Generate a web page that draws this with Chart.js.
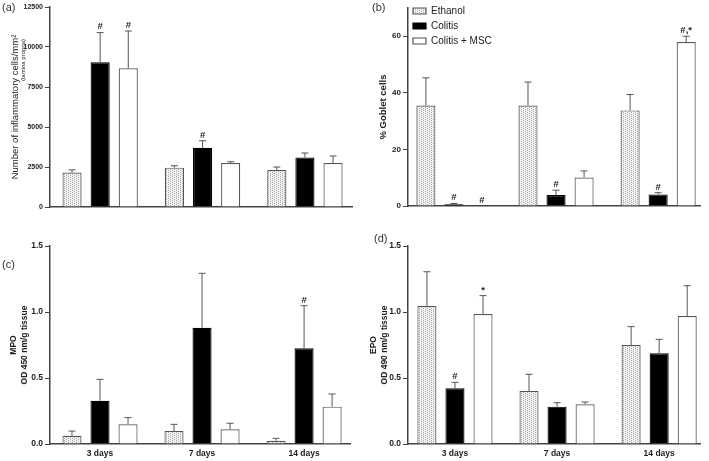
<!DOCTYPE html>
<html>
<head>
<meta charset="utf-8">
<script src="https://cdn.jsdelivr.net/npm/chart.js@4.4.1/dist/chart.umd.min.js"></script>
<style>
  body { margin: 0; background: #fff; width: 709px; height: 461px; position: relative; overflow: hidden; font-family: "Liberation Sans", Arial, sans-serif; }
  canvas { position: absolute; }
  .panel { position: absolute; font-size: 11px; color: #333; }
</style>
</head>
<body>
<canvas id="chartA" width="355" height="218" style="left:0;top:0"></canvas>
<canvas id="chartB" width="354" height="218" style="left:355px;top:0"></canvas>
<canvas id="chartC" width="355" height="243" style="left:0;top:218px"></canvas>
<canvas id="chartD" width="354" height="243" style="left:355px;top:218px"></canvas>
<div class="panel" style="left:2px;top:1px">(a)</div>
<div class="panel" style="left:372px;top:1px">(b)</div>
<div class="panel" style="left:2px;top:258px">(c)</div>
<div class="panel" style="left:374px;top:232px">(d)</div>
<script>
const days = ["3 days", "7 days", "14 days"];
const groups = ["Ethanol", "Colitis", "Colitis + MSC"];

// (a) inflammatory cells / mm2
const cellsEthanol = [2150, 2460, 2310];
const cellsColitis = [9040, 3700, 3100];
const cellsMsc = [8670, 2750, 2750];
const cellsEthanolErr = [170, 120, 190];
const cellsColitisErr = [1860, 440, 275];
const cellsMscErr = [2330, 80, 440];
const cellsMarks = [["", "", ""], ["#", "#", ""], ["#", "", ""]];

// (b) % goblet cells
const gobletEthanol = [35.5, 35.5, 33.8];
const gobletColitis = [0.6, 3.9, 4.1];
const gobletMsc = [0, 10.1, 58];
const gobletEthanolErr = [9.8, 8.3, 5.6];
const gobletColitisErr = [0.3, 1.7, 0.6];
const gobletMscErr = [0, 2.3, 2];
const gobletMarks = [["", "", ""], ["#", "#", "#"], ["#", "", "#,*"]];

// (c) MPO
const mpoEthanol = [0.063, 0.098, 0.025];
const mpoColitis = [0.328, 0.881, 0.725];
const mpoMsc = [0.149, 0.111, 0.283];
const mpoEthanolErr = [0.035, 0.051, 0.018];
const mpoColitisErr = [0.162, 0.412, 0.323];
const mpoMscErr = [0.051, 0.046, 0.096];
const mpoMarks = [["", "", ""], ["", "", "#"], ["", "", ""]];

// (d) EPO
const epoEthanol = [1.045, 0.401, 0.75];
const epoColitis = [0.422, 0.283, 0.687];
const epoMsc = [0.985, 0.301, 0.97];
const epoEthanolErr = [0.26, 0.127, 0.139];
const epoColitisErr = [0.045, 0.03, 0.106];
const epoMscErr = [0.139, 0.017, 0.229];
const epoMarks = [["", "", ""], ["#", "", ""], ["*", "", ""]];

Chart.defaults.font.family = '"Liberation Sans", Arial, sans-serif';
Chart.defaults.color = "#222";
Chart.defaults.animation = false;

const FONT = '"Liberation Sans", Arial, sans-serif';

function dots() {
  const c = document.createElement("canvas");
  c.width = 4; c.height = 2;
  const g = c.getContext("2d");
  g.fillStyle = "#f3f3f3";
  g.fillRect(0, 0, 4, 2);
  g.fillStyle = "#a5a5a5";
  g.fillRect(0, 0, 1, 1);
  g.fillRect(2, 1, 1, 1);
  return g.createPattern(c, "repeat");
}
const dotPattern = dots();

const errorBars = {
  id: "errorBars",
  afterDatasetsDraw(chart) {
    const ctx = chart.ctx;
    const y = chart.scales.y;
    chart.data.datasets.forEach((ds, di) => {
      const meta = chart.getDatasetMeta(di);
      meta.data.forEach((bar, i) => {
        const top = y.getPixelForValue(ds.data[i].y + ds.errors[i]);
        ctx.save();
        if (ds.errors[i] > 0) {
          ctx.strokeStyle = "#555";
          ctx.lineWidth = 1;
          ctx.beginPath();
          ctx.moveTo(bar.x, bar.y);
          ctx.lineTo(bar.x, top);
          ctx.moveTo(bar.x - 3.5, top);
          ctx.lineTo(bar.x + 3.5, top);
          ctx.stroke();
        }
        const m = ds.marks[i];
        if (m) {
          ctx.fillStyle = "#222";
          ctx.font = "bold 9.5px " + FONT;
          ctx.textAlign = "center";
          ctx.textBaseline = "bottom";
          ctx.fillText(m, bar.x, top - 1);
        }
        ctx.restore();
      });
    });
  }
};

const laminaNote = {
  id: "laminaNote",
  afterDraw(chart) {
    const ctx = chart.ctx;
    ctx.save();
    ctx.translate(23, 60);
    ctx.rotate(-Math.PI / 2);
    ctx.font = "6px " + FONT;
    ctx.fillStyle = "#222";
    ctx.textAlign = "center";
    ctx.textBaseline = "middle";
    ctx.fillText("(lamina propria)", 0, 0);
    ctx.restore();
  }
};

const legendShift = {
  id: "legendShift",
  afterLayout(chart) {
    if (chart.legend) { chart.legend.top += 1; }
  }
};

function makeSets(eth, col, msc, errs, marks) {
  const vals = [eth, col, msc];
  return groups.map((g, k) => ({
    label: g,
    data: vals[k].map((v, i) => ({ x: i, y: v })),
    errors: errs[k],
    marks: marks[k],
    backgroundColor: k === 0 ? dotPattern : k === 1 ? "#000" : "#fff",
    borderColor: k === 1 ? "#000" : "#555",
    borderWidth: 1.2,
    categoryPercentage: 0.824,
    barPercentage: 0.68
  }));
}

function build(id, o) {
  return new Chart(document.getElementById(id), {
    type: "bar",
    data: { datasets: makeSets(o.eth, o.col, o.msc, o.errs, o.marks) },
    options: {
      responsive: false,
      maintainAspectRatio: false,
      layout: { padding: { top: o.padTop, right: o.padRight, left: 0, bottom: 0 } },
      plugins: {
        legend: o.legend ? {
          display: true,
          position: "chartArea",
          align: "start",
          labels: { boxWidth: 13, boxHeight: 6, padding: 5, font: { size: 10 }, color: "#222" }
        } : { display: false },
        tooltip: { enabled: false }
      },
      scales: {
        x: {
          type: "linear",
          min: o.xMin,
          max: o.xMax,
          offset: false,
          afterFit: (s) => { s.height = o.xHeight; },
          grid: { display: true, drawOnChartArea: false, drawTicks: false, offset: false },
          border: { color: "#444", width: 1.5 },
          ticks: {
            display: o.xLabels,
            stepSize: 1,
            includeBounds: false,
            autoSkip: false,
            maxRotation: 0,
            padding: 5,
            font: { size: 8.5, weight: "bold" },
            callback: (v) => (Number.isInteger(v) ? days[v] : "")
          }
        },
        y: {
          min: 0,
          max: o.yMax,
          afterFit: (s) => { s.width = o.yWidth; },
          grid: { drawOnChartArea: false, drawTicks: true, tickLength: 5, color: "#444" },
          border: { color: "#444", width: 1.5 },
          ticks: {
            stepSize: o.yStep,
            includeBounds: false,
            padding: 2,
            font: { size: o.tickSize, weight: "bold" },
            callback: o.yFmt
          },
          title: {
            display: true,
            text: o.yTitle,
            padding: { top: o.titlePad, bottom: 0 },
            font: { size: o.titleSize, weight: o.titleWeight, lineHeight: 1.3 },
            color: "#222"
          }
        }
      }
    },
    plugins: o.extra
  });
}

build("chartA", {
  eth: cellsEthanol, col: cellsColitis, msc: cellsMsc,
  errs: [cellsEthanolErr, cellsColitisErr, cellsMscErr], marks: cellsMarks,
  padTop: 7, padRight: 3, xHeight: 11, yWidth: 50, xMin: -0.49, xMax: 2.46, xLabels: false,
  yMax: 12500, yStep: 2500, tickSize: 7, yFmt: (v) => v,
  yTitle: "Number of inflammatory cells/mm\u00b2", titlePad: 9, titleSize: 9.5, titleWeight: "normal",
  legend: false, extra: [errorBars, laminaNote]
});

build("chartB", {
  eth: gobletEthanol, col: gobletColitis, msc: gobletMsc,
  errs: [gobletEthanolErr, gobletColitisErr, gobletMscErr], marks: gobletMarks,
  padTop: 8, padRight: 9, xHeight: 12, yWidth: 53, xMin: -0.45, xMax: 2.41, xLabels: false,
  yMax: 70, yStep: 20, tickSize: 8, yFmt: (v) => v,
  yTitle: "% Goblet cells", titlePad: 22, titleSize: 9.5, titleWeight: "bold",
  legend: true, extra: [errorBars, legendShift]
});

build("chartC", {
  eth: mpoEthanol, col: mpoColitis, msc: mpoMsc,
  errs: [mpoEthanolErr, mpoColitisErr, mpoMscErr], marks: mpoMarks,
  padTop: 28, padRight: 5, xHeight: 17, yWidth: 50, xMin: -0.49, xMax: 2.45, xLabels: true,
  yMax: 1.5, yStep: 0.5, tickSize: 8.5, yFmt: (v) => v.toFixed(1),
  yTitle: ["MPO", "OD 450 nm/g tissue"], titlePad: 8, titleSize: 8.5, titleWeight: "bold",
  legend: false, extra: [errorBars]
});

build("chartD", {
  eth: epoEthanol, col: epoColitis, msc: epoMsc,
  errs: [epoEthanolErr, epoColitisErr, epoMscErr], marks: epoMarks,
  padTop: 28, padRight: 9, xHeight: 17, yWidth: 53, xMin: -0.46, xMax: 2.40, xLabels: true,
  yMax: 1.5, yStep: 0.5, tickSize: 8.5, yFmt: (v) => v.toFixed(1),
  yTitle: ["EPO", "OD 490 nm/g tissue"], titlePad: 13, titleSize: 8.5, titleWeight: "bold",
  legend: false, extra: [errorBars]
});
</script>
</body>
</html>
